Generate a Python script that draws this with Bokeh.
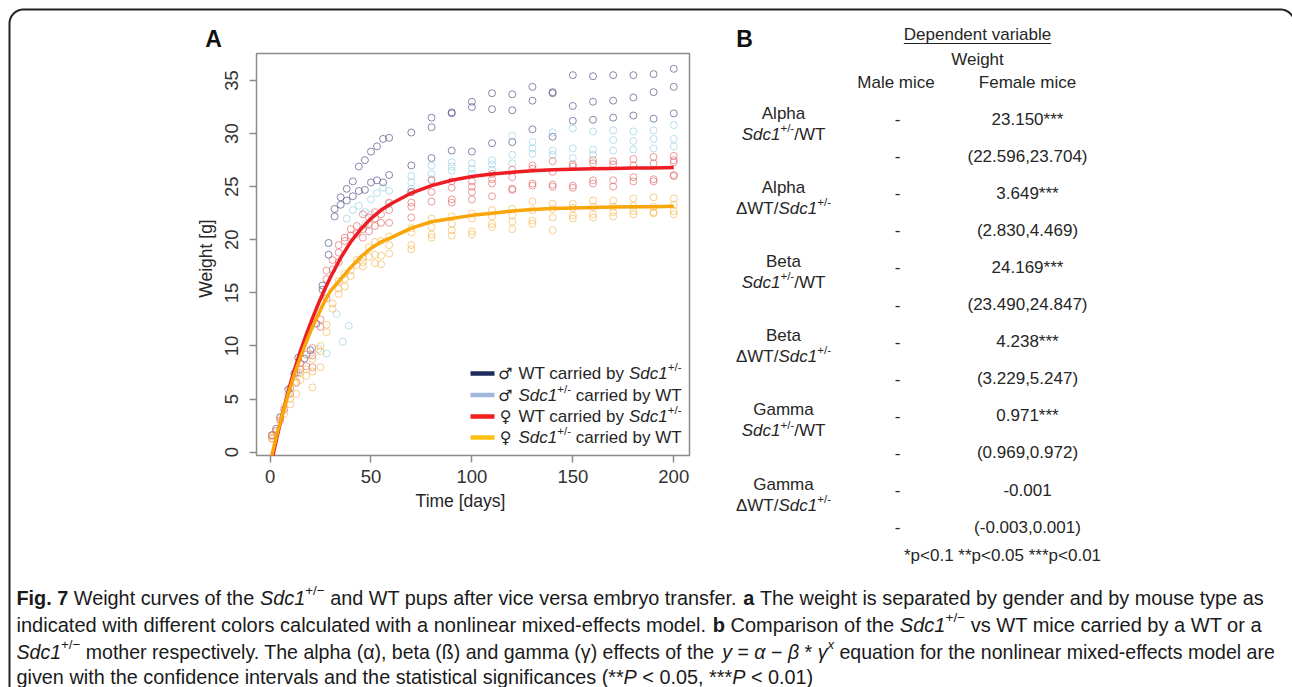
import math
from bokeh.plotting import figure
from bokeh.models import Range1d, FixedTicker, ColumnDataSource
from bokeh.core.properties import value
from bokeh.embed import file_html
from bokeh.resources import INLINE

# ---------------- data ----------------
x_ticks = [0, 50, 100, 150, 200]
y_ticks = [0, 5, 10, 15, 20, 25, 30, 35]

navy_day = [1, 3, 5, 9, 12, 14, 17, 20, 23, 26, 26, 29, 29, 32, 32, 35, 35, 38, 38, 41, 41, 44, 44, 47, 47, 50, 50, 53, 53, 56, 56, 59, 59,
            70, 70, 70, 80, 80, 80, 90, 90, 90, 100, 100, 100, 110, 110, 110, 120, 120, 120, 130, 130, 130, 140, 140, 140,
            150, 150, 150, 160, 160, 160, 170, 170, 170, 180, 180, 180, 190, 190, 190, 200, 200, 200]
navy_w = [1.6, 2.2, 3.3, 5.9, 7.4, 8.9, 8.8, 9.6, 12.1, 15.7, 15.3, 19.7, 18.6, 22.9, 22.2, 24.0, 23.3, 24.8, 23.7, 25.5, 24.1, 26.9, 24.6,
          27.5, 24.7, 28.3, 25.4, 28.8, 25.6, 29.5, 25.4, 29.6, 26.1,
          30.1, 27.0, 24.5, 31.5, 30.6, 27.7, 32.0, 31.9, 28.4, 33.0, 32.5, 28.3, 33.8, 32.3, 29.1, 33.7, 32.2, 29.2,
          34.4, 33.1, 30.4, 33.9, 33.8, 29.7, 35.5, 32.6, 31.2, 35.4, 33.0, 31.3, 35.5, 33.1, 31.5, 35.5, 33.4, 31.7,
          35.6, 33.9, 31.4, 36.1, 34.4, 31.9]

lb_day = [9, 14, 20, 24, 28, 33, 36, 39, 38, 41, 44, 47, 47, 50, 50, 53, 56, 59, 59,
          70, 70, 70, 80, 80, 80, 90, 90, 90, 100, 100, 100, 110, 110, 110, 120, 120, 120, 130, 130, 130, 140, 140, 140,
          150, 150, 150, 160, 160, 160, 170, 170, 170, 180, 180, 180, 190, 190, 190, 200, 200, 200]
lb_w = [5.5, 7.5, 9.2, 9.7, 9.3, 13.0, 10.4, 11.9, 22.0, 22.8, 23.2, 22.6, 21.4, 23.8, 22.4, 24.4, 24.9, 24.6, 23.4,
        26.0, 25.4, 24.8, 27.0, 26.2, 25.7, 27.3, 26.9, 26.5, 27.2, 26.7, 26.2, 27.5, 27.1, 26.6, 29.8, 28.0, 27.2,
        29.2, 28.6, 28.1, 30.1, 28.4, 28.0, 30.5, 28.6, 27.7, 30.2, 28.5, 28.0, 30.3, 29.4, 28.4, 30.2, 29.3, 28.5,
        30.3, 29.5, 28.6, 30.8, 29.5, 28.8]

red_day = [1, 1, 3, 5, 7, 10, 10, 13, 13, 15, 15, 18, 18, 21, 21, 21, 25, 25, 28, 28, 28, 31, 31, 34, 34, 34, 37, 37, 40, 40,
           43, 43, 46, 46, 46, 49, 49, 49, 52, 52, 52, 55, 55, 59, 59, 59,
           70, 70, 70, 70, 80, 80, 80, 90, 90, 90, 90, 100, 100, 100, 100, 110, 110, 110, 110, 120, 120, 120, 120,
           130, 130, 130, 130, 140, 140, 140, 140, 150, 150, 150, 150, 160, 160, 160, 160, 170, 170, 170, 170,
           180, 180, 180, 180, 190, 190, 190, 190, 200, 200, 200, 200, 200]
red_w = [1.6, 1.3, 2.0, 3.0, 4.0, 5.5, 6.0, 7.5, 6.6, 8.4, 7.8, 9.2, 8.1, 9.8, 9.1, 8.0, 12.5, 11.8, 16.3, 14.5, 17.1, 17.2, 18.1,
         18.8, 19.5, 17.9, 20.2, 19.9, 20.4, 21.0, 21.3, 20.6, 21.0, 22.4, 20.2, 22.1, 21.5, 20.8, 22.6, 22.0, 21.3, 22.4, 21.6,
         23.5, 22.8, 21.6,
         24.5, 23.5, 23.1, 22.1, 25.6, 24.5, 23.6, 25.5, 24.9, 23.8, 23.5, 25.5, 25.0, 24.5, 23.8, 26.2, 25.7, 25.3, 24.1,
         26.6, 25.9, 24.8, 24.7, 27.0, 26.7, 25.3, 25.1, 27.4, 26.4, 25.2, 25.0, 27.1, 26.9, 25.1, 24.9, 27.5, 27.2, 25.6, 25.3,
         27.4, 27.1, 25.6, 25.0, 27.6, 27.0, 25.9, 25.5, 27.8, 27.2, 25.7, 25.5, 27.9, 27.5, 27.3, 26.1, 26.0]

or_day = [1, 1, 3, 5, 7, 7, 10, 10, 13, 13, 15, 15, 18, 18, 21, 21, 21, 25, 25, 25, 28, 28, 31, 31, 34, 34, 34, 37, 37, 37,
          40, 40, 43, 43, 46, 46, 46, 49, 49, 52, 52, 52, 55, 55, 55, 59, 59, 59,
          70, 70, 70, 70, 80, 80, 80, 80, 90, 90, 90, 90, 100, 100, 100, 100, 110, 110, 110, 110, 120, 120, 120, 120,
          130, 130, 130, 130, 140, 140, 140, 140, 150, 150, 150, 150, 160, 160, 160, 160, 170, 170, 170, 170,
          180, 180, 180, 180, 190, 190, 190, 190, 200, 200, 200, 200]
or_w = [1.3, 1.5, 1.9, 3.2, 4.2, 3.6, 5.0, 4.5, 6.5, 5.5, 7.5, 6.8, 7.8, 7.2, 8.8, 7.6, 6.1, 10.0, 9.5, 8.0, 12.0, 11.3, 13.5, 14.0,
        15.4, 16.1, 14.9, 16.8, 16.3, 15.6, 17.1, 16.6, 17.6, 18.1, 18.3, 17.5, 17.9, 19.3, 18.4, 19.8, 18.6, 17.8, 19.9, 18.5, 17.7,
        20.3, 19.5, 18.7,
        21.1, 20.7, 19.5, 19.1, 22.0, 21.2, 20.5, 20.2, 22.2, 21.5, 20.9, 20.4, 22.5, 22.0, 20.8, 20.5, 22.8, 22.2, 21.5, 21.2,
        22.9, 22.3, 21.7, 21.0, 23.6, 22.8, 21.8, 21.5, 23.4, 22.9, 22.1, 20.9, 23.4, 23.0, 22.3, 22.0, 23.7, 23.1, 22.4, 22.1,
        23.7, 23.1, 22.6, 22.2, 23.9, 23.2, 22.7, 22.4, 24.0, 23.1, 22.6, 22.5, 23.9, 23.3, 22.7, 22.4]

curve_day = [0, 2, 4, 6, 8, 10, 12, 15, 18, 21, 24, 27, 30, 35, 40, 45, 50, 55, 60, 70, 80, 90, 100, 110, 120, 130, 140,
             150, 160, 170, 180, 190, 200]
red_fit = [-1.6, 0.2, 1.9, 3.5, 5.0, 6.4, 7.7, 9.5, 11.1, 12.6, 14.0, 15.3, 16.5, 18.3, 19.8, 21.0, 22.0, 22.8, 23.4, 24.4,
           25.1, 25.6, 25.95, 26.2, 26.35, 26.5, 26.6, 26.65, 26.7, 26.72, 26.75, 26.77, 26.8]
orange_fit = [-1.0, 0.6, 2.1, 3.5, 4.8, 6.1, 7.3, 8.9, 10.4, 11.8, 13.0, 14.2, 15.2, 16.3, 17.4, 18.4, 19.2, 19.8, 20.2, 21.1,
              21.7, 22.0, 22.3, 22.5, 22.7, 22.85, 22.95, 23.0, 23.05, 23.08, 23.1, 23.12, 23.15]

legend_symbols = ["\u2642", "\u2642", "\u2640", "\u2640"]
legend_texts = [
    [("WT carried by ", "n"), ("Sdc1", "i"), ("+/-", "sup")],
    [("Sdc1", "i"), ("+/-", "sup"), (" carried by WT", "n")],
    [("WT carried by ", "n"), ("Sdc1", "i"), ("+/-", "sup")],
    [("Sdc1", "i"), ("+/-", "sup"), (" carried by WT", "n")],
]
legend_colors = ["#1c2b5a", "#a0b6dc", "#f21d1d", "#fdc010"]

param_names = ["Alpha", "Alpha", "Beta", "Beta", "Gamma", "Gamma"]
group_labels = [
    [("Sdc1", "i"), ("+/-", "sup"), ("/WT", "n")],
    [("\u0394WT/", "n"), ("Sdc1", "i"), ("+/-", "sup")],
]
female_vals = ["23.150***", "3.649***", "24.169***", "4.238***", "0.971***", "-0.001"]
female_ci = ["(22.596,23.704)", "(2.830,4.469)", "(23.490,24.847)", "(3.229,5.247)", "(0.969,0.972)", "(-0.003,0.001)"]
male_vals = ["-"] * 12
footnote = "*p<0.1 **p<0.05 ***p<0.01"

caption_lines = [
    [("Fig. 7", "b"), (" Weight curves of the ", "n"), ("Sdc1", "i"), ("+/\u2212", "sup"),
     (" and WT pups after vice versa embryo transfer. ", "n"), ("a", "b"),
     (" The weight is separated by gender and by mouse type as", "n")],
    [("indicated with different colors calculated with a nonlinear mixed-effects model. ", "n"), ("b", "b"),
     (" Comparison of the ", "n"), ("Sdc1", "i"), ("+/\u2212", "sup"), (" vs WT mice carried by a WT or a", "n")],
    [("Sdc1", "i"), ("+/\u2212", "sup"),
     (" mother respectively. The alpha (\u03b1), beta (\u00df) and gamma (\u03b3) effects of the ", "n"),
     ("y", "i"), (" = ", "n"), ("\u03b1", "i"), (" \u2212 ", "n"), ("\u03b2", "i"), (" * ", "n"), ("\u03b3", "i"),
     ("x", "supi"), (" equation for the nonlinear mixed-effects model are", "n")],
    [("given with the confidence intervals and the statistical significances (**", "n"), ("P", "i"),
     (" < 0.05, ***", "n"), ("P", "i"), (" < 0.01)", "n")],
]
caption_ends = [1263, 1262, 1275, None]

# ---------------- layout helpers ----------------
W, H = 1292, 687
FL, FR, FT, FB = 256, 689, 53, 455
FONT = "Liberation Sans"
TXT = "#262626"

AW = {' ': 278, '(': 333, ')': 333, '*': 389, '+': 584, ',': 278, '-': 333, '.': 278, '/': 278, ':': 278,
      '<': 584, '=': 584, '>': 584, '[': 278, ']': 278,
      'A': 667, 'B': 667, 'C': 722, 'D': 722, 'E': 667, 'F': 611, 'G': 778, 'H': 722, 'I': 278, 'J': 500, 'K': 667,
      'L': 556, 'M': 833, 'N': 722, 'O': 778, 'P': 667, 'Q': 778, 'R': 722, 'S': 667, 'T': 611, 'U': 722, 'V': 667,
      'W': 944, 'X': 667, 'Y': 667, 'Z': 611,
      'a': 556, 'b': 556, 'c': 500, 'd': 556, 'e': 556, 'f': 278, 'g': 556, 'h': 556, 'i': 222, 'j': 222, 'k': 500,
      'l': 222, 'm': 833, 'n': 556, 'o': 556, 'p': 556, 'q': 556, 'r': 333, 's': 500, 't': 278, 'u': 556, 'v': 500,
      'w': 722, 'x': 500, 'y': 500, 'z': 500,
      '\u03b1': 578, '\u03b2': 575, '\u03b3': 500, '\u0394': 668, '\u00df': 611, '\u2212': 584}
for d in "0123456789":
    AW[d] = 556
BW = dict(AW)
BW.update({'g': 611, 'b': 611, 'A': 722, 'B': 722, 'i': 278})


def tw(s, size, bold=False):
    t = BW if bold else AW
    return sum(t.get(c, 556) for c in s) * size / 1000.0


p = figure(width=W, height=H, x_range=Range1d(-6.7, 207.8), y_range=Range1d(-0.31, 37.54),
           output_backend="svg", toolbar_location=None,
           min_border_left=FL, min_border_right=W - FR, min_border_top=FT, min_border_bottom=H - FB)
# pixel-coordinate ranges for page decorations (canvas X from left, Y from top)
p.extra_x_ranges = {"px": Range1d(FL, FR)}
p.extra_y_ranges = {"py": Range1d(FB, FT)}
PX = dict(x_range_name="px", y_range_name="py")

p.grid.visible = False
p.outline_line_color = "#8c8c8c"
p.outline_line_width = 1.5
p.background_fill_color = "white"
p.border_fill_color = "white"
for ax in (p.xaxis[0], p.yaxis[0]):
    ax.axis_line_color = None
    ax.major_tick_line_color = "#8c8c8c"
    ax.major_tick_line_width = 1.5
    ax.major_tick_out = 7
    ax.major_tick_in = 0
    ax.minor_tick_line_color = None
    ax.major_label_text_font = FONT
    ax.major_label_text_font_size = "18.5px"
    ax.major_label_text_color = "#333333"
p.xaxis.ticker = FixedTicker(ticks=x_ticks)
p.yaxis.ticker = FixedTicker(ticks=y_ticks)
p.yaxis.major_label_orientation = "parallel"
p.xaxis.major_label_standoff = 7
p.yaxis.major_label_standoff = 11


def add_text(X, Y, text, size, style="normal", align="left", font=FONT, color=TXT, angle=0.0):
    p.text(x=[X], y=[Y], text=[text], text_font=value(font), text_font_size=f"{size:.2f}px",
           text_font_style=style, text_color=color, text_align=align, text_baseline="middle",
           angle=angle, level="overlay", **PX)


STY = {"n": "normal", "i": "italic", "b": "bold", "sup": "normal", "supi": "italic"}


def add_segs(X, Y, segs, size, align="left", color=TXT):
    ws = []
    for t, s in segs:
        fs = size * 0.68 if s.startswith("sup") else size
        ws.append(tw(t, fs, s == "b"))
    x0 = X - sum(ws) / 2 if align == "center" else X
    for (t, s), w in zip(segs, ws):
        sup = s.startswith("sup")
        fs = size * 0.68 if sup else size
        lead = len(t) - len(t.lstrip(" "))
        body = t.strip(" ")
        xs = x0 + lead * AW[" "] * fs / 1000.0
        if body:
            add_text(xs, Y - size * 0.36 if sup else Y, body, fs, STY[s], color=color)
        x0 += w


# ---------------- scatter + curves ----------------
groups = [(navy_day, navy_w, "#55558a", 0.7), (lb_day, lb_w, "#8ccbe0", 0.6),
          (red_day, red_w, "#e05a5a", 0.6), (or_day, or_w, "#f5b040", 0.6)]
for d, w, c, a in groups:
    src = ColumnDataSource(dict(x=d, y=w))
    p.scatter("x", "y", source=src, marker="circle", size=7, fill_color=None,
              line_color=c, line_alpha=a, line_width=1)

p.line(curve_day, red_fit, line_color="#ee1d23", line_width=3.5, line_join="round")
p.line(curve_day, orange_fit, line_color="#f8a60a", line_width=3.5, line_join="round")

# ---------------- legend ----------------
leg_y = [373, 394.5, 416, 437]
p.segment(x0=[470] * 4, x1=[494] * 4, y0=leg_y, y1=leg_y, line_color=legend_colors, line_width=4.5,
          level="overlay", **PX)
for i in range(4):
    add_text(505, leg_y[i], legend_symbols[i], 16, align="center", font="DejaVu Sans")
    add_segs(518, leg_y[i], legend_texts[i], 17)

# axis titles
add_text(460, 500, "Time [days]", 17.5, align="center")
add_text(205, 258, "Weight [g]", 17.5, align="center", angle=math.pi / 2)

# panel letters
add_text(213, 38, "A", 23, "bold", align="center", color="#111111")
add_text(744, 38, "B", 23, "bold", align="center", color="#111111")

# ---------------- table B ----------------
TS = 17
add_text(977, 34, "Dependent variable", TS, align="center")
uw = tw("Dependent variable", TS)
p.segment(x0=[977 - uw / 2], x1=[977 + uw / 2], y0=[43], y1=[43], line_color=TXT, line_width=1.2,
          level="overlay", **PX)
add_text(977, 59, "Weight", TS, align="center")
add_text(895.5, 82, "Male mice", TS, align="center")
add_text(1027, 82, "Female mice", TS, align="center")

row_y = [118.5 + 37.1 * k for k in range(12)]
for k in range(12):
    add_text(897, row_y[k], male_vals[k], TS, align="center")
for j in range(6):
    yv = row_y[2 * j]
    yc = row_y[2 * j + 1]
    add_text(1027, yv, female_vals[j], TS, align="center")
    add_text(1027, yc, female_ci[j], TS, align="center")
    add_text(783, yv - 6, param_names[j], TS, align="center")
    add_segs(783, yv + 15, group_labels[j % 2], TS, align="center")
add_text(1002, 555, footnote, TS, align="center")


# ---------------- caption ----------------
def line_width_units(segs):
    tot = 0.0
    for t, s in segs:
        fs = 0.68 if s.startswith("sup") else 1.0
        tot += tw(t, fs, s == "b")
    return tot


CS0 = (caption_ends[0] - 16) / line_width_units(caption_lines[0])
cap_y = [597, 624, 651, 676]
for segs, y, end in zip(caption_lines, cap_y, caption_ends):
    cs = (end - 16) / line_width_units(segs) if end else CS0
    add_segs(16, y, segs, cs, color="#1a1a1a")

# ---------------- outer rounded frame ----------------
R = 14
bx0, by0, bx1, by1 = 9, 9, 1294, 760
fx, fy = [bx0], [by1]
for k in range(0, 13):
    a = math.pi + k * (math.pi / 2) / 12
    fx.append(bx0 + R + R * math.cos(a))
    fy.append(by0 + R + R * math.sin(a))
for k in range(0, 13):
    a = 1.5 * math.pi + k * (math.pi / 2) / 12
    fx.append(bx1 - R + R * math.cos(a))
    fy.append(by0 + R + R * math.sin(a))
fx.append(bx1)
fy.append(by1)
p.line(fx, fy, line_color="#222222", line_width=2, level="overlay", **PX)

open("out.html", "w").write(file_html(p, INLINE))
